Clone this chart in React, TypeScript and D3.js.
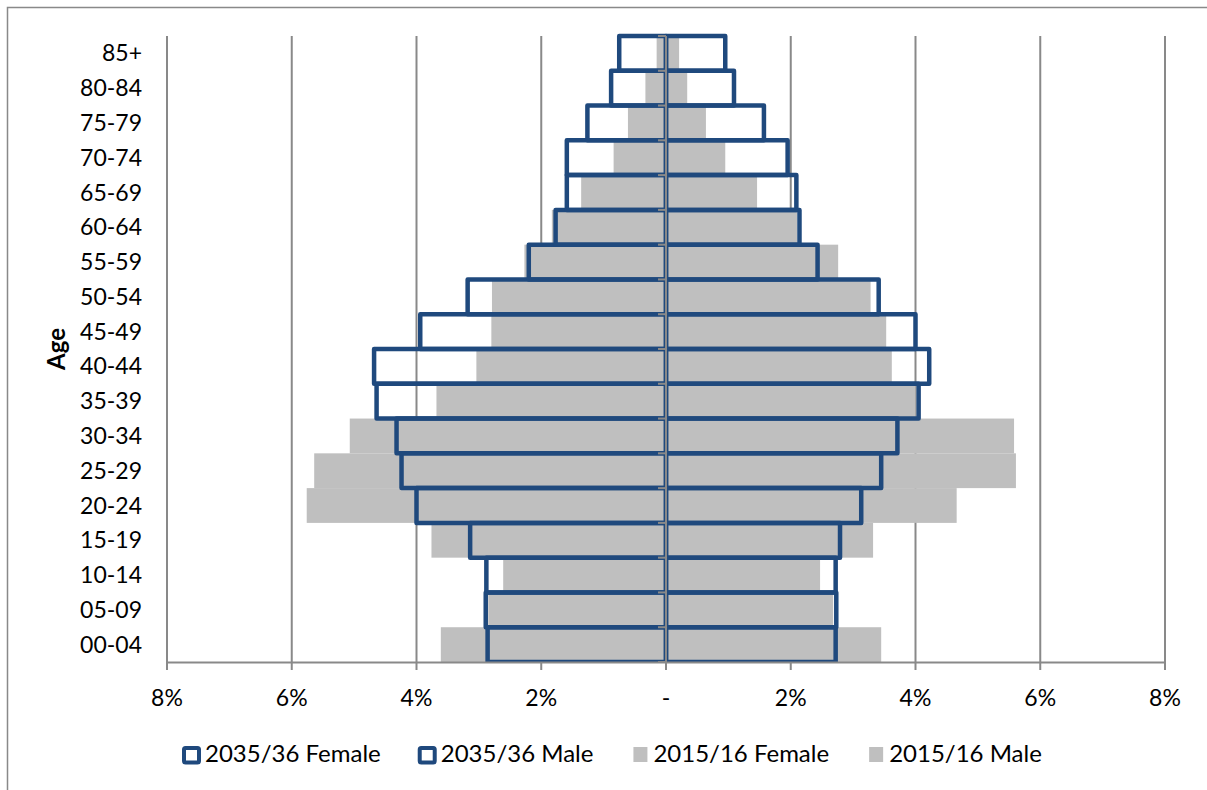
import React, { useEffect, useRef } from 'react'
import * as d3 from 'd3'

// age bands, youngest first (drawn bottom to top)
const ageGroups = ['00-04', '05-09', '10-14', '15-19', '20-24', '25-29', '30-34', '35-39', '40-44',
  '45-49', '50-54', '55-59', '60-64', '65-69', '70-74', '75-79', '80-84', '85+']

// share of population, %
const female2035 = [2.86, 2.89, 2.88, 3.14, 4.0, 4.24, 4.32, 4.64, 4.68, 3.94, 3.18, 2.2, 1.77, 1.59, 1.59, 1.26, 0.88, 0.75]
const male2035 = [2.72, 2.73, 2.72, 2.79, 3.13, 3.45, 3.71, 4.05, 4.22, 4.0, 3.41, 2.43, 2.14, 2.09, 1.95, 1.57, 1.09, 0.95]
const female2015 = [3.61, 2.85, 2.61, 3.76, 5.76, 5.64, 5.07, 3.68, 3.04, 2.8, 2.79, 2.27, 1.83, 1.36, 0.84, 0.61, 0.33, 0.15]
const male2015 = [3.45, 2.68, 2.47, 3.32, 4.66, 5.61, 5.58, 4.0, 3.62, 3.53, 3.28, 2.76, 2.1, 1.46, 0.95, 0.64, 0.34, 0.21]

const xTicks = [-8, -6, -4, -2, 0, 2, 4, 6, 8]
const legendLabels = ['2035/36 Female', '2035/36 Male', '2015/16 Female', '2015/16 Male']

const BLUE = '#1f497d'
const GREY = '#bfbfbf'
const AXIS = '#898989'
const FONT = 'Lato, "Open Sans", sans-serif'

const App = () => {
  const ref = useRef<SVGSVGElement>(null)

  useEffect(() => {
    const svg = d3.select(ref.current)
    svg.selectAll('*').remove()

    // plot area
    const plot = { left: 167, right: 1165, top: 36, bottom: 662 }

    const x = d3.scaleLinear().domain([-8, 8]).range([plot.left, plot.right])
    const y = d3.scaleBand<string>()
      .domain([...ageGroups].reverse())
      .range([plot.top, plot.bottom])
      .padding(0)

    // chart border (only left and top edges fall inside the picture)
    svg.append('rect')
      .attr('x', 7.5).attr('y', 7.5)
      .attr('width', 1250).attr('height', 850)
      .attr('fill', 'white')
      .attr('stroke', AXIS).attr('stroke-width', 1.5)

    // vertical gridlines
    svg.append('g')
      .selectAll('line')
      .data(xTicks.filter(d => d !== 0))
      .enter()
      .append('line')
      .attr('x1', d => x(d)).attr('x2', d => x(d))
      .attr('y1', plot.top).attr('y2', plot.bottom)
      .attr('stroke', AXIS).attr('stroke-width', 2)

    const rows = ageGroups.map((age, i) => ({
      age,
      f35: female2035[i], m35: male2035[i],
      f15: female2015[i], m15: male2015[i]
    }))

    // 2015/16 grey bars
    const greyG = svg.append('g').attr('fill', GREY)
    greyG.selectAll('.f15').data(rows).enter().append('rect')
      .attr('x', d => x(-d.f15)).attr('width', d => x(0) - x(-d.f15))
      .attr('y', d => y(d.age)!).attr('height', y.bandwidth())
    greyG.selectAll('.m15').data(rows).enter().append('rect')
      .attr('x', x(0)).attr('width', d => x(d.m15) - x(0))
      .attr('y', d => y(d.age)!).attr('height', y.bandwidth())

    // clip so outlines stop at the axis
    svg.append('clipPath').attr('id', 'plotclip')
      .append('rect')
      .attr('x', 0).attr('y', 0)
      .attr('width', 1207).attr('height', plot.bottom)

    // 2035/36 outlined bars
    const blueG = svg.append('g')
      .attr('clip-path', 'url(#plotclip)')
      .attr('fill', 'none')
      .attr('stroke', BLUE)
      .attr('stroke-width', 4.5)
      .attr('stroke-linejoin', 'round')
    blueG.selectAll('.f35').data(rows).enter().append('rect')
      .attr('x', d => x(-d.f35)).attr('width', d => x(0) - x(-d.f35))
      .attr('y', d => y(d.age)!).attr('height', y.bandwidth())
    blueG.selectAll('.m35').data(rows).enter().append('rect')
      .attr('x', x(0)).attr('width', d => x(d.m35) - x(0))
      .attr('y', d => y(d.age)!).attr('height', y.bandwidth())

    // bottom axis
    const axisG = svg.append('g').attr('stroke', AXIS).attr('stroke-width', 2)
    axisG.append('line')
      .attr('x1', plot.left - 1).attr('x2', plot.right + 1)
      .attr('y1', plot.bottom + 0.5).attr('y2', plot.bottom + 0.5)
    axisG.selectAll('.xt').data(xTicks).enter().append('line')
      .attr('x1', d => x(d)).attr('x2', d => x(d))
      .attr('y1', plot.bottom).attr('y2', plot.bottom + 8)

    // centre (category) axis with ticks at band edges
    axisG.append('line')
      .attr('x1', x(0)).attr('x2', x(0))
      .attr('y1', plot.top).attr('y2', plot.bottom)
    const edges = ageGroups.map(a => y(a)!).concat([plot.bottom])
    axisG.selectAll('.yt').data(edges).enter().append('line')
      .attr('x1', x(0) - 8).attr('x2', x(0))
      .attr('y1', d => d).attr('y2', d => d)

    // x tick labels
    svg.append('g')
      .selectAll('text')
      .data(xTicks)
      .enter()
      .append('text')
      .attr('x', d => x(d))
      .attr('y', 706)
      .attr('text-anchor', 'middle')
      .attr('font-family', FONT).attr('font-size', 23)
      .attr('fill', 'black')
      .text(d => (d === 0 ? '-' : `${Math.abs(d)}%`))

    // age labels
    svg.append('g')
      .selectAll('text')
      .data(ageGroups)
      .enter()
      .append('text')
      .attr('x', 142)
      .attr('y', d => y(d)! + y.bandwidth() / 2)
      .attr('dy', '0.35em')
      .attr('text-anchor', 'end')
      .attr('font-family', FONT).attr('font-size', 23)
      .attr('fill', 'black')
      .text(d => d)

    // axis title
    svg.append('text')
      .attr('transform', `translate(65, ${(plot.top + plot.bottom) / 2}) rotate(-90)`)
      .attr('text-anchor', 'middle')
      .attr('font-family', FONT).attr('font-size', 24).attr('font-weight', 'bold')
      .attr('fill', 'black')
      .text('Age')

    // legend
    let lx = 182
    legendLabels.forEach((label, i) => {
      const g = svg.append('g')
      if (i < 2) {
        g.append('rect')
          .attr('x', lx + 2).attr('y', 748)
          .attr('width', 15).attr('height', 14.5)
          .attr('rx', 1.5)
          .attr('fill', 'white').attr('stroke', BLUE).attr('stroke-width', 4)
      } else {
        g.append('rect')
          .attr('x', lx + 3).attr('y', 747)
          .attr('width', 14).attr('height', 15)
          .attr('fill', GREY)
      }
      const t = g.append('text')
        .attr('x', lx + 23).attr('y', 762)
        .attr('font-family', FONT).attr('font-size', 24)
        .attr('fill', 'black')
        .text(label)
      const w = (t.node() as SVGTextElement).getComputedTextLength()
      lx = lx + 23 + w + 37
    })
  }, [])

  return (
    <svg ref={ref} width={1207} height={790}
      style={{ position: 'absolute', left: 0, top: 0, background: 'white' }} />
  )
}

export default App
